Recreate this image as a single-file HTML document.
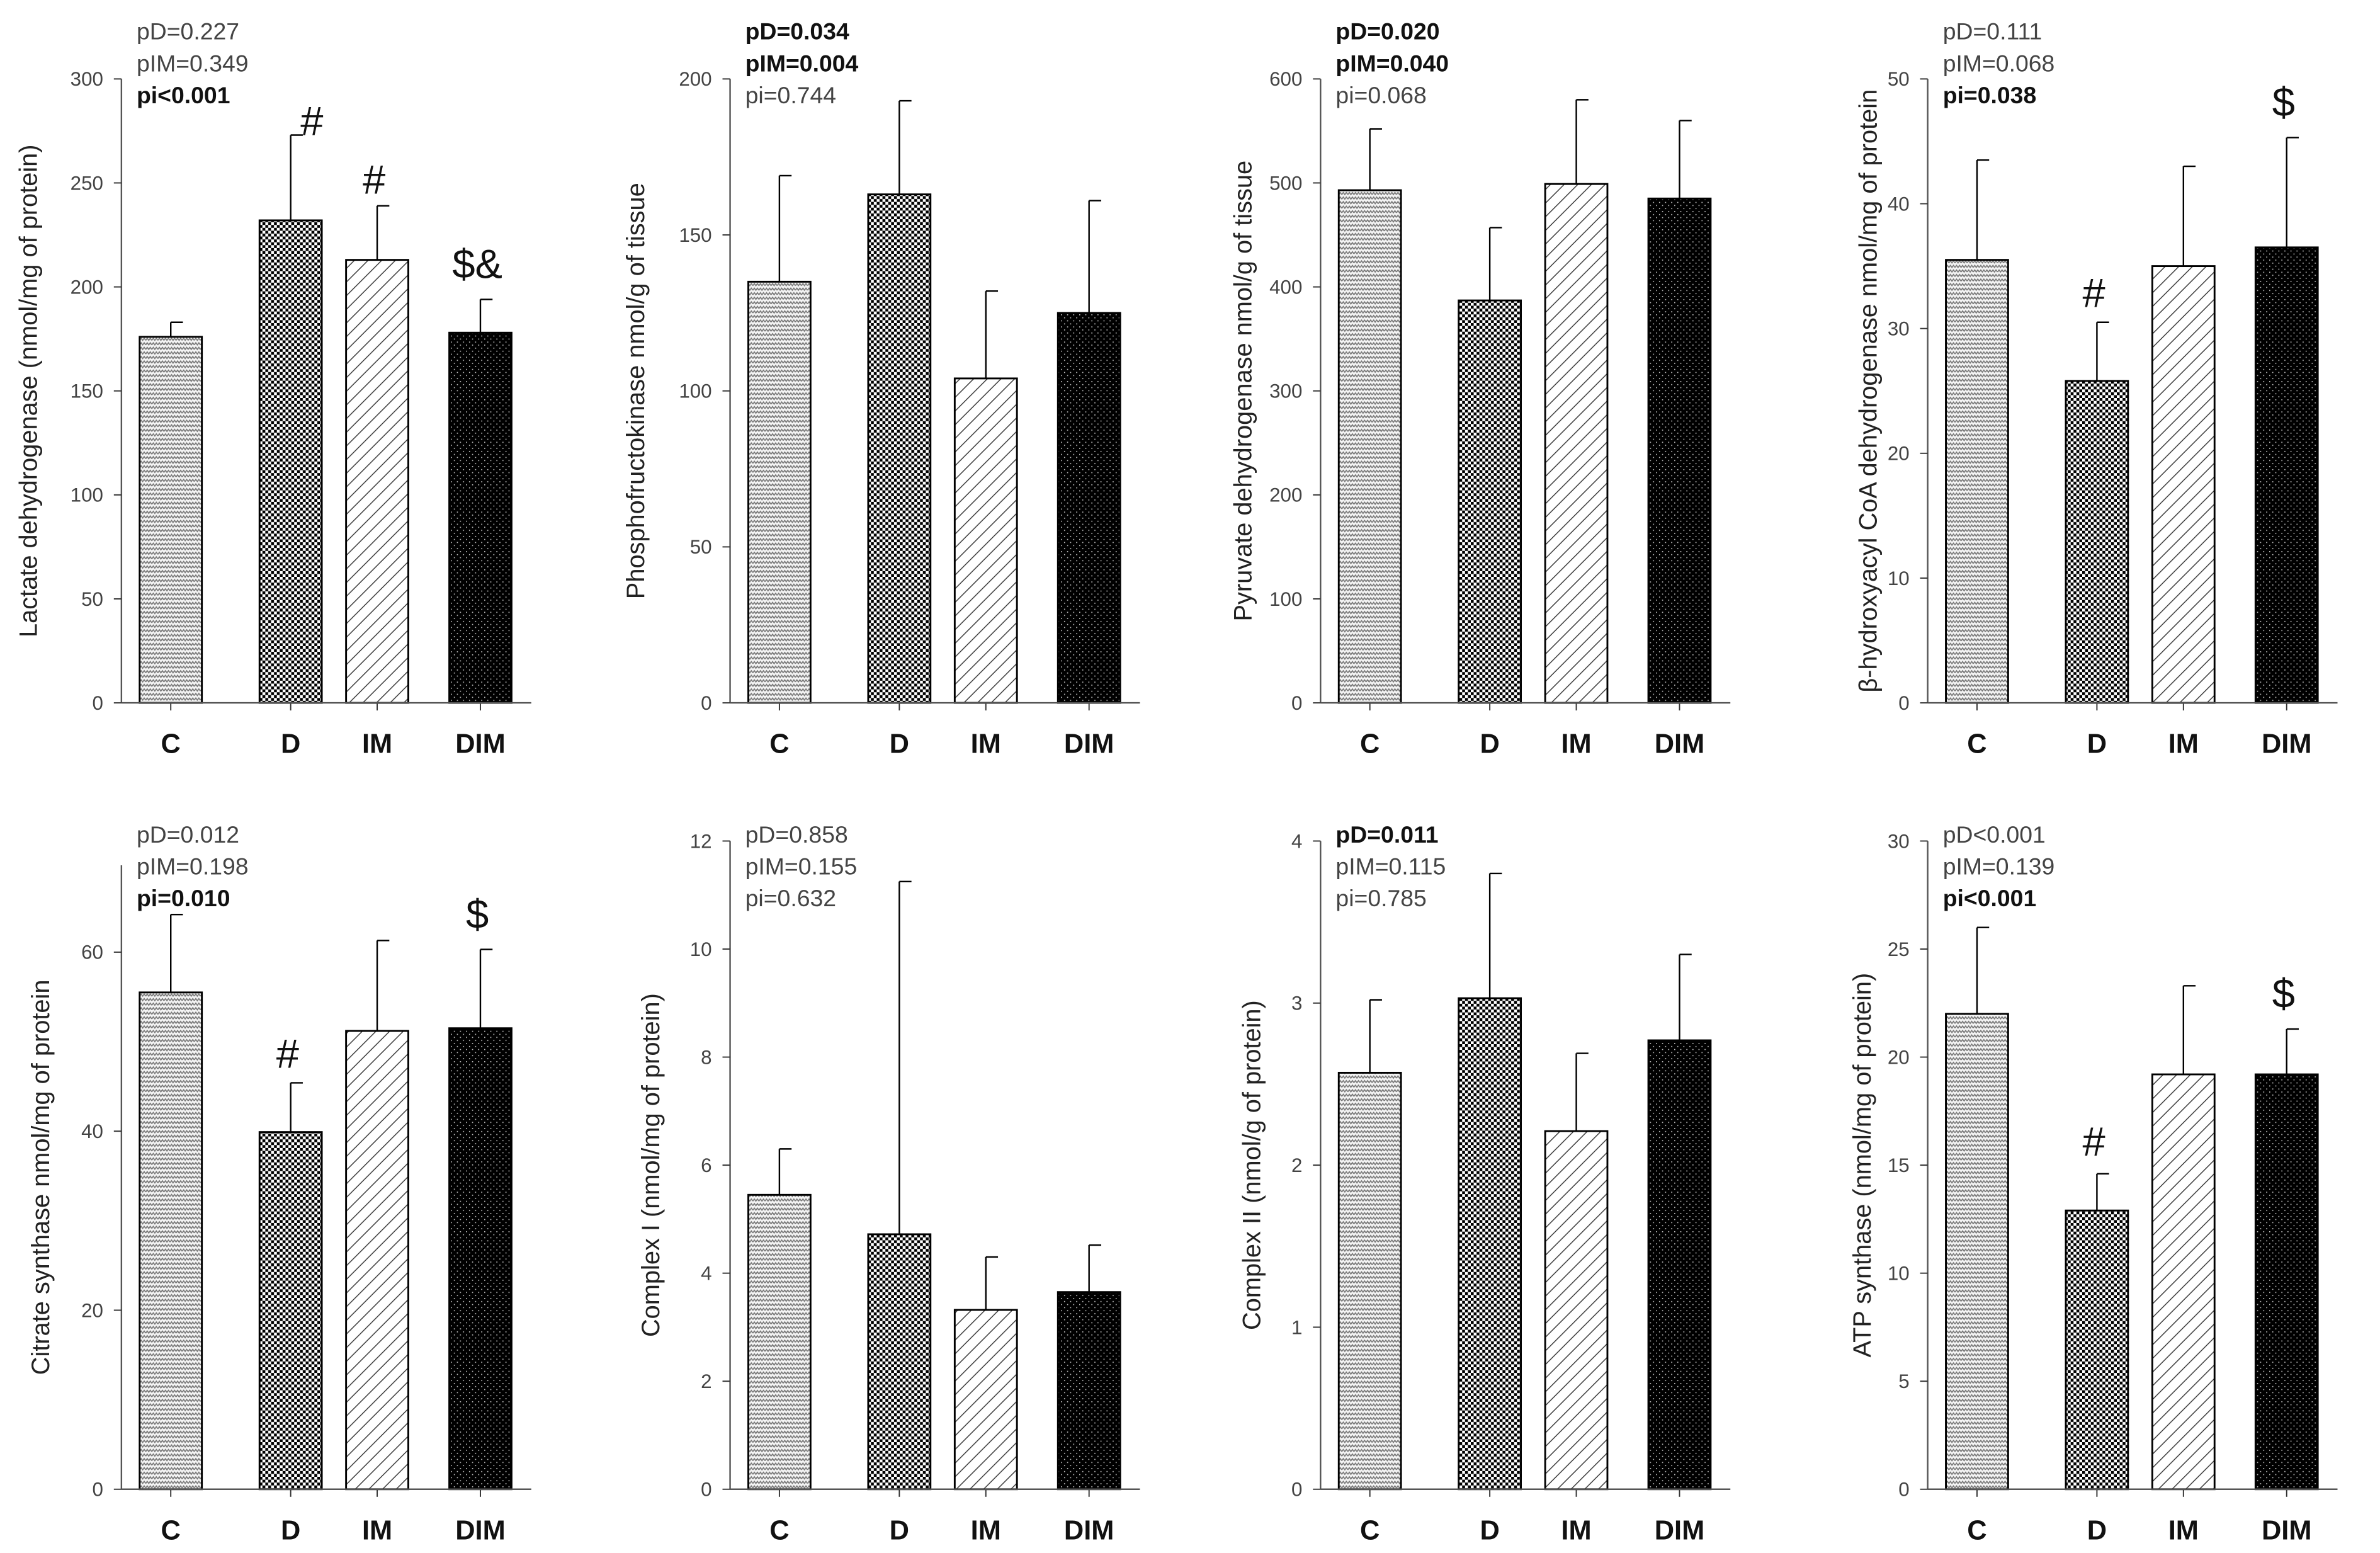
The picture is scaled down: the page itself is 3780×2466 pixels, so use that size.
<!DOCTYPE html>
<html><head><meta charset="utf-8"><style>
html,body{margin:0;padding:0;background:#fff}
svg{display:block}
text{font-family:"Liberation Sans",sans-serif}
</style></head><body>
<svg id="chart" width="3780" height="2466" viewBox="0 0 1568 1023" preserveAspectRatio="none" xmlns="http://www.w3.org/2000/svg">
<defs>
<pattern id="pC" patternUnits="userSpaceOnUse" width="4" height="3">
<rect width="4" height="3" fill="#f4f4f4"/>
<polyline points="0,2.2 1,0.8 2,2.2 3,0.8 4,2.2" fill="none" stroke="#777" stroke-width="0.7"/>
</pattern>
<pattern id="pD" patternUnits="userSpaceOnUse" width="3.8" height="3.8">
<rect width="3.8" height="3.8" fill="#fff"/>
<rect width="1.9" height="1.9" fill="#000"/><rect x="1.9" y="1.9" width="1.9" height="1.9" fill="#000"/>
</pattern>
<pattern id="pIM" patternUnits="userSpaceOnUse" width="9" height="9">
<rect width="9" height="9" fill="#fff"/>
<path d="M-1,10 L10,-1 M-1,1 L1,-1 M8,10 L10,8" stroke="#333" stroke-width="0.6"/>
</pattern>
<pattern id="pDIM" patternUnits="userSpaceOnUse" width="4" height="4">
<rect width="4" height="4" fill="#000"/>
<rect x="1" y="1" width="0.7" height="0.7" fill="#bbb"/><rect x="3" y="3" width="0.7" height="0.7" fill="#bbb"/>
</pattern>
</defs>
<g id="root"></g>
</svg>
<script>
const categories = ["C","D","IM","DIM"];
const p1Values = [176,232,213,178];  const p1Err = [183,273,239,194];
const p2Values = [135,163,104,125];  const p2Err = [169,193,132,161];
const p3Values = [493,387,499,485];  const p3Err = [552,457,580,560];
const p4Values = [35.5,25.8,35,36.5]; const p4Err = [43.5,30.5,43,45.3];
const p5Values = [55.5,39.9,51.2,51.5]; const p5Err = [64.2,45.4,61.3,60.3];
const p6Values = [5.45,4.72,3.32,3.65]; const p6Err = [6.3,11.25,4.3,4.52];
const p7Values = [2.57,3.03,2.21,2.77]; const p7Err = [3.02,3.8,2.69,3.3];
const p8Values = [22,12.9,19.2,19.2]; const p8Err = [26,14.6,23.3,21.3];
const p1Ticks = [0,50,100,150,200,250,300];
const p2Ticks = [0,50,100,150,200];
const p3Ticks = [0,100,200,300,400,500,600];
const p4Ticks = [0,10,20,30,40,50];
const p5Ticks = [0,20,40,60];
const p6Ticks = [0,2,4,6,8,10,12];
const p7Ticks = [0,1,2,3,4];
const p8Ticks = [0,5,10,15,20,25,30];

const NS="http://www.w3.org/2000/svg";
const root=document.getElementById('root');
const fills=["url(#pC)","url(#pD)","url(#pIM)","url(#pDIM)"];
const barOff=[12,91,148,216], barW=41;

function mk(tag,attrs,parent){const e=document.createElementNS(NS,tag);for(const k in attrs)e.setAttribute(k,attrs[k]);(parent||root).appendChild(e);return e;}

const panels=[
 {ax:80,y0:463,top:52,max:300,vals:p1Values,err:p1Err,ticks:p1Ticks,title:"Lactate dehydrogenase (nmol/mg of protein)",tx:20,p:[["pD=0.227",0],["pIM=0.349",0],["pi<0.001",1]],py:14,ann:[[1,"#",14,0],[2,"#",-2,-8],[3,"$&",-2,-14]]},
 {ax:481,y0:463,top:52,max:200,vals:p2Values,err:p2Err,ticks:p2Ticks,title:"Phosphofructokinase nmol/g of tissue",tx:420,p:[["pD=0.034",1],["pIM=0.004",1],["pi=0.744",0]],py:14,ann:[]},
 {ax:870,y0:463,top:52,max:600,vals:p3Values,err:p3Err,ticks:p3Ticks,title:"Pyruvate dehydrogenase nmol/g of tissue",tx:820,p:[["pD=0.020",1],["pIM=0.040",1],["pi=0.068",0]],py:14,ann:[]},
 {ax:1270,y0:463,top:52,max:50,vals:p4Values,err:p4Err,ticks:p4Ticks,title:"β-hydroxyacyl CoA dehydrogenase nmol/mg of protein",tx:1232,p:[["pD=0.111",0],["pIM=0.068",0],["pi=0.038",1]],py:14,ann:[[1,"#",-2,-10],[3,"$",-2,-14]]},
 {ax:80,y0:981,top:570,max:69.7,vals:p5Values,err:p5Err,ticks:p5Ticks,title:"Citrate synthase nmol/mg of protein",tx:28,p:[["pD=0.012",0],["pIM=0.198",0],["pi=0.010",1]],py:543,ann:[[1,"#",-2,-10],[3,"$",-2,-14]]},
 {ax:481,y0:981,top:554,max:12,vals:p6Values,err:p6Err,ticks:p6Ticks,title:"Complex I (nmol/mg of protein)",tx:430,p:[["pD=0.858",0],["pIM=0.155",0],["pi=0.632",0]],py:543,ann:[]},
 {ax:870,y0:981,top:554,max:4,vals:p7Values,err:p7Err,ticks:p7Ticks,title:"Complex II (nmol/g of protein)",tx:826,p:[["pD=0.011",1],["pIM=0.115",0],["pi=0.785",0]],py:543,ann:[]},
 {ax:1270,y0:981,top:554,max:30,vals:p8Values,err:p8Err,ticks:p8Ticks,title:"ATP synthase (nmol/mg of protein)",tx:1228,p:[["pD<0.001",0],["pIM=0.139",0],["pi<0.001",1]],py:543,ann:[[1,"#",-2,-12],[3,"$",-2,-14]]}
];

panels.forEach((P,pi)=>{
 const g=mk('g',{});
 
 
 const y=v=>P.y0-(v/P.max)*(P.y0-P.top);
 const x=i=>P.ax+barOff[i];
 P.vals.forEach((v,i)=>{
   const b=mk('rect',{x:x(i),y:y(v),width:barW,height:P.y0-y(v),fill:fills[i],stroke:"#000","stroke-width":1.2},g);
   
   
   const cx=x(i)+barW/2;
   const e=mk('path',{d:`M${cx},${y(v)} L${cx},${y(P.err[i])} M${cx},${y(P.err[i])} L${cx+8},${y(P.err[i])}`,stroke:"#000","stroke-width":1,fill:"none"},g);
   
   
   const t=mk('text',{x:cx,y:P.y0+33,"font-size":18,"font-weight":"bold","text-anchor":"middle",fill:"#111"},g);
   t.textContent=categories[i];
   
   
   mk('line',{x1:cx,y1:P.y0,x2:cx,y2:P.y0+5,stroke:"#333","stroke-width":0.8},g);
 });
 const ya=mk('line',{x1:P.ax,y1:P.top,x2:P.ax,y2:P.y0,stroke:"#555","stroke-width":1},g);
 
 
 const xa=mk('line',{x1:P.ax,y1:P.y0,x2:P.ax+270,y2:P.y0,stroke:"#555","stroke-width":1},g);
 
 
 P.ticks.forEach(tv=>{
   mk('line',{x1:P.ax-5,y1:y(tv),x2:P.ax,y2:y(tv),stroke:"#333","stroke-width":0.8},g);
   const t=mk('text',{x:P.ax-12,y:y(tv)+4.5,"font-size":13,"text-anchor":"end",fill:"#444"},g);
   t.textContent=tv;
   
   
 });
 const my=(P.top+P.y0)/2;
 const tt=mk('text',{x:P.tx,y:my,"font-size":16.5,"text-anchor":"middle",fill:"#222",transform:`rotate(-90 ${P.tx} ${my})`,"dominant-baseline":"middle"},g);
 tt.textContent=P.title;
 
 
 P.p.forEach((l,k)=>{
   const t=mk('text',{x:P.ax+10,y:P.py+k*21+12,"font-size":15.5,"font-weight":l[1]?"bold":"normal",fill:l[1]?"#111":"#444"},g);
   t.textContent=l[0];
   
   
 });
 P.ann.forEach(a=>{
   const i=a[0];const cx=x(i)+barW/2+a[2];
   const t=mk('text',{x:cx,y:y(P.err[i])+a[3],"font-size":27,"text-anchor":"middle",fill:"#111"},g);
   t.textContent=a[1];
   
   
 });
});
</script>
</body></html>
